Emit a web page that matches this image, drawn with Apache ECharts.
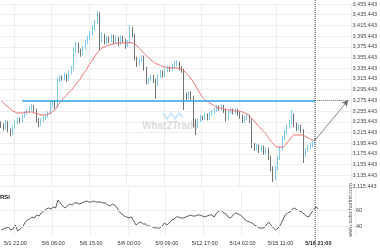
<!DOCTYPE html>
<html><head><meta charset="utf-8">
<script src="https://cdn.jsdelivr.net/npm/echarts@6/dist/echarts.min.js"></script>
<style>html,body{margin:0;padding:0;background:#fff}#c{width:380px;height:250px}</style>
</head><body><div id="c"></div><script>
// ---- data ----
const tickLabels = ["5/1 22:00","5/6 06:00","5/6 15:00","5/8 00:00","5/9 09:00","5/12 17:00","5/14 02:00","5/15 11:00","5/16 21:00"];
const tickIndex = [6,22,38,54,70,86,102,118,134];
const categoryCount = 150;
// [open, close, low, high]
const candles = [
[3232.0,3229.4,3224.0,3236.0],[3229.4,3223.8,3219.0,3232.5],[3223.8,3235.0,3221.0,3238.5],[3235.0,3220.1,3216.0,3237.0],
[3220.1,3214.5,3208.0,3223.0],[3214.5,3225.7,3211.0,3228.0],[3225.7,3235.0,3222.0,3238.0],[3235.0,3240.6,3231.0,3244.0],
[3240.6,3236.9,3233.0,3243.0],[3236.9,3246.2,3234.0,3249.0],[3246.2,3251.8,3243.0,3255.0],[3251.8,3255.6,3248.0,3259.0],
[3255.6,3261.2,3252.0,3264.0],[3261.2,3264.9,3257.0,3269.0],[3264.9,3257.4,3253.0,3267.0],[3257.4,3238.8,3234.0,3260.0],
[3238.8,3231.3,3225.0,3242.0],[3231.3,3238.8,3228.0,3242.0],[3238.8,3242.5,3235.0,3246.0],[3242.5,3246.2,3239.0,3249.0],
[3246.2,3251.8,3243.0,3255.0],[3251.8,3268.6,3249.0,3272.0],[3268.6,3272.4,3264.0,3276.0],[3272.4,3264.9,3260.0,3275.0],
[3264.9,3313.5,3262.0,3318.0],[3313.5,3319.1,3309.0,3323.0],[3319.1,3317.2,3312.0,3322.0],[3317.2,3322.8,3313.0,3327.0],
[3322.8,3315.3,3310.0,3325.0],[3315.3,3328.4,3312.0,3332.0],[3328.4,3335.9,3324.0,3340.0],[3335.9,3369.5,3332.0,3374.0],
[3369.5,3380.7,3365.0,3385.0],[3380.7,3369.5,3364.0,3383.0],[3369.5,3362.0,3357.0,3372.0],[3362.0,3373.3,3359.0,3377.0],
[3373.3,3384.5,3370.0,3388.0],[3384.5,3391.9,3380.0,3396.0],[3391.9,3401.3,3388.0,3405.0],[3401.3,3410.6,3397.0,3415.0],
[3410.6,3421.8,3406.0,3426.0],[3421.8,3436.8,3418.0,3442.4],[3436.8,3388.2,3369.5,3440.0],[3388.2,3397.5,3384.0,3402.0],
[3397.5,3384.5,3380.0,3400.0],[3384.5,3391.9,3381.0,3396.0],[3391.9,3388.2,3383.0,3395.0],[3388.2,3395.7,3385.0,3399.0],
[3395.7,3386.3,3381.0,3398.0],[3386.3,3391.9,3382.0,3396.0],[3391.9,3382.6,3377.0,3394.0],[3382.6,3393.8,3379.0,3397.0],
[3393.8,3388.2,3383.0,3396.0],[3388.2,3378.9,3372.0,3391.0],[3378.9,3384.5,3375.0,3388.0],[3384.5,3410.6,3381.0,3416.2],
[3410.6,3397.5,3393.0,3413.0],[3397.5,3354.6,3350.0,3400.0],[3354.6,3343.4,3338.0,3357.0],[3343.4,3350.8,3340.0,3354.0],
[3350.8,3356.4,3346.0,3360.0],[3356.4,3335.9,3331.0,3359.0],[3335.9,3309.7,3305.0,3338.0],[3309.7,3315.3,3306.0,3319.0],
[3315.3,3320.9,3312.0,3324.0],[3320.9,3313.5,3308.0,3323.0],[3313.5,3306.0,3278.0,3316.0],[3306.0,3320.9,3302.0,3324.0],
[3320.9,3328.4,3317.0,3332.0],[3328.4,3322.8,3318.0,3331.0],[3322.8,3332.2,3319.0,3336.0],[3332.2,3335.9,3328.0,3340.0],
[3335.9,3334.0,3329.0,3339.0],[3334.0,3339.6,3330.0,3343.0],[3339.6,3343.4,3336.0,3348.0],[3343.4,3345.2,3339.0,3350.8],
[3345.2,3335.9,3331.0,3348.0],[3335.9,3332.2,3327.0,3339.0],[3332.2,3285.5,3257.4,3334.0],[3285.5,3281.7,3276.0,3290.0],
[3281.7,3289.2,3278.0,3293.0],[3289.2,3281.7,3276.0,3292.0],[3281.7,3238.8,3225.0,3284.0],[3238.8,3227.5,3210.7,3241.0],
[3227.5,3238.8,3224.0,3242.0],[3238.8,3244.4,3235.0,3248.0],[3244.4,3242.5,3238.0,3247.0],[3242.5,3248.1,3239.0,3252.0],
[3248.1,3242.5,3238.0,3251.0],[3242.5,3250.0,3239.0,3254.0],[3250.0,3253.7,3246.0,3257.0],[3253.7,3257.4,3250.0,3261.0],
[3257.4,3263.0,3254.0,3267.0],[3263.0,3261.2,3256.0,3266.0],[3261.2,3264.9,3257.0,3268.0],[3264.9,3257.4,3252.0,3267.0],
[3257.4,3242.5,3236.0,3260.0],[3242.5,3253.7,3239.0,3257.0],[3253.7,3257.4,3250.0,3261.0],[3257.4,3253.7,3249.0,3260.0],
[3253.7,3257.4,3250.0,3261.0],[3257.4,3251.8,3247.0,3260.0],[3251.8,3246.2,3241.0,3254.0],[3246.2,3238.8,3233.0,3249.0],
[3238.8,3242.5,3234.0,3246.0],[3242.5,3246.2,3238.0,3250.0],[3246.2,3238.8,3233.0,3249.0],[3238.8,3192.1,3186.0,3241.0],
[3192.1,3186.5,3181.0,3196.0],[3186.5,3190.2,3182.0,3194.0],[3190.2,3182.7,3177.0,3193.0],[3182.7,3188.3,3179.0,3192.0],
[3188.3,3179.0,3174.0,3191.0],[3179.0,3184.6,3175.0,3188.0],[3184.6,3169.6,3164.0,3187.0],[3169.6,3149.1,3143.0,3172.0],
[3149.1,3130.4,3122.9,3152.0],[3130.4,3149.1,3127.0,3153.0],[3149.1,3167.8,3145.0,3171.0],[3167.8,3186.5,3164.0,3190.0],
[3186.5,3205.1,3183.0,3209.0],[3205.1,3216.3,3201.0,3220.0],[3216.3,3227.5,3212.0,3231.0],[3227.5,3235.0,3223.0,3239.0],
[3235.0,3248.1,3231.0,3257.4],[3248.1,3231.3,3226.0,3251.0],[3231.3,3223.8,3218.0,3234.0],[3223.8,3227.5,3219.0,3231.0],
[3227.5,3220.1,3215.0,3230.0],[3220.1,3173.4,3158.4,3222.0],[3173.4,3182.7,3169.0,3186.0],[3182.7,3188.3,3179.0,3192.0],
[3188.3,3192.1,3184.0,3196.0],[3192.1,3195.8,3188.0,3199.0],[3195.8,3201.4,3192.0,3205.0]
];
const ma = [
3274.2,3270.5,3266.8,3263.0,3259.3,3255.6,3253.7,3251.8,3251.8,3251.8,3252.7,3253.7,3253.7,3253.7,3251.8,3250.9,
3250.0,3248.1,3248.1,3248.1,3250.0,3251.8,3254.6,3257.4,3264.9,3270.5,3276.1,3281.7,3285.5,3291.1,3294.8,3300.4,
3306.0,3311.6,3317.2,3324.7,3330.3,3337.7,3345.2,3350.8,3358.3,3363.9,3369.5,3373.3,3375.1,3377.0,3378.9,3379.8,
3380.7,3381.7,3382.6,3382.6,3382.6,3382.6,3382.6,3383.5,3382.6,3380.7,3377.0,3372.3,3367.6,3363.0,3358.3,3354.6,
3350.8,3347.1,3344.3,3342.4,3340.5,3338.7,3337.7,3336.8,3335.9,3335.9,3335.9,3335.9,3334.9,3334.0,3330.3,3326.5,
3321.9,3315.3,3309.7,3302.3,3294.8,3287.3,3280.8,3276.1,3273.3,3270.5,3267.7,3264.9,3262.1,3261.2,3260.2,3259.3,
3258.4,3257.4,3257.4,3256.5,3255.6,3255.6,3254.6,3253.7,3251.8,3249.0,3246.2,3241.5,3236.9,3231.3,3226.6,3221.9,
3217.3,3212.6,3206.0,3199.5,3194.8,3190.2,3188.3,3188.3,3188.3,3190.2,3195.8,3201.4,3207.0,3210.7,3210.7,3210.7,
3210.7,3209.8,3207.9,3205.1,3203.3,3201.4,3201.4
];
const rsi = [
36,37.2,38.4,39.6,36,37.2,42,34.8,37.2,39.6,44.4,48,49.2,51.6,50.4,54,52.8,56.4,58.8,61.2,62.4,61.2,63.6,62.4,
72,68.4,64.8,62.4,64.8,67.2,66,68.4,68.4,67.2,68.4,69.6,70.8,69.6,69.6,70.8,69.6,69.6,69.6,68.4,68.4,66,64.8,67.2,
66,62.4,57.6,55.2,52.8,51.6,50.4,51.6,46.8,42,44.4,45.6,43.2,43.2,40.8,40.8,39.6,38.4,38.4,38.4,40.8,44.4,42,44.4,
48,49.2,51.6,51.6,50.4,50.4,51.6,52.8,54,52.8,52.8,54,54,52.8,51.6,52.8,54,54,51.6,56.4,58.8,60,56.4,55.2,51.6,
50.4,54,56.4,55.2,54,51.6,48,46.8,45.6,44.4,42,40.8,38.4,38.4,38.4,42,45.6,42,38.4,36,38.4,42,48,54,56.4,57.6,
61.2,62.4,60,58.8,57.6,55.2,52.8,51.6,56.4,60,63.6,61.2
];
const priceTicks = [3115.443,3135.443,3155.443,3175.443,3195.443,3215.443,3235.443,3255.443,3275.443,3295.443,3315.443,3335.443,3355.443,3375.443,3395.443,3415.443,3435.443,3455.443];
const rsiTicks = [40, 60];
const levelPrice = 3275.443;
const levelStartIdx = 9;
const lastIdx = 134;
const targetIdx = 148;
const lastClose = 3201.4;

// ---- build ----
const OFFSET = 15.443; // shift so that price ticks land on multiples of 20
const sh = v => +(v - OFFSET).toFixed(3);
const categories = [];
for (let i = 0; i < categoryCount; i++) {
  const k = tickIndex.indexOf(i);
  categories.push(k >= 0 ? tickLabels[k] : '');
}
const fmtPrice = v => {
  const s = (v + OFFSET).toFixed(3);
  const [a, b] = s.split('.');
  return a.replace(/\B(?=(\d{3})+(?!\d))/g, ',') + '.' + b;
};
const showTick = i => tickIndex.indexOf(i) >= 0;
const FONT = 'Liberation Sans, Arial, sans-serif';
const gridColor = '#ededed';

const chart = echarts.init(document.getElementById('c'), null, {renderer: 'canvas'});
const option = {
  animation: false,
  backgroundColor: '#fff',
  grid: [
    {left: 0, right: 25, top: 4, height: 182},
    {left: 0, right: 25, top: 190, height: 45}
  ],
  xAxis: [
    {type: 'category', gridIndex: 0, data: categories, boundaryGap: true,
     axisLine: {show: false}, axisTick: {show: false}, axisLabel: {show: false},
     splitLine: {show: true, interval: (i) => showTick(i), lineStyle: {color: gridColor, width: 1}}},
    {type: 'category', gridIndex: 1, data: categories, boundaryGap: true,
     axisLine: {show: false}, axisTick: {show: false},
     axisLabel: {show: true, interval: (i) => showTick(i), fontSize: 5.5, color: '#333', fontFamily: FONT, margin: 5,
       formatter: (v, i) => i === lastIdx ? '{b|' + v + '}' : v,
       rich: {b: {fontWeight: 'bold', fontSize: 5.5, color: '#222', fontFamily: FONT}}},
     splitLine: {show: true, interval: (i) => showTick(i), lineStyle: {color: gridColor, width: 1}}}
  ],
  yAxis: [
    {type: 'value', gridIndex: 0, position: 'right', min: sh(priceTicks[0]), max: sh(priceTicks[priceTicks.length - 1]), interval: 20,
     axisLine: {show: false}, axisTick: {show: false},
     axisLabel: {fontSize: 5.5, color: '#444', fontFamily: FONT, margin: 1, formatter: fmtPrice, showMinLabel: true, showMaxLabel: true},
     splitLine: {show: true, lineStyle: {color: gridColor, width: 1}}},
    {type: 'value', gridIndex: 1, position: 'right', min: 30, max: 84, interval: 10,
     axisLine: {show: false}, axisTick: {show: false},
     axisLabel: {fontSize: 5.5, color: '#444', fontFamily: FONT, margin: 1, formatter: v => rsiTicks.indexOf(v) >= 0 ? String(v) : ''},
     splitLine: {show: false}}
  ],
  series: [
    {type: 'candlestick', xAxisIndex: 0, yAxisIndex: 0, barWidth: 1.2,
     data: candles.map(r => r.map(sh)),
     itemStyle: {color: '#7cc9f0', color0: '#727272', borderColor: '#7cc9f0', borderColor0: '#727272', borderWidth: 1},
     markLine: {silent: true, animation: false, symbol: ['none', 'none'], label: {show: false},
       data: [
         [{coord: [levelStartIdx, sh(levelPrice)], lineStyle: {color: '#2ba6e1', width: 1.6, type: 'solid'}},
          {coord: [lastIdx, sh(levelPrice)]}],
         [{coord: [lastIdx, sh(levelPrice)], lineStyle: {color: '#777', width: 1, type: [1, 1]}},
          {coord: [targetIdx, sh(levelPrice)]}]
       ]}},
    {type: 'line', xAxisIndex: 0, yAxisIndex: 0, data: ma.map(sh), showSymbol: false, smooth: true,
     lineStyle: {color: '#f06a6a', width: 1}, z: 3,
     markLine: {silent: true, animation: false, symbol: ['none', 'arrow'], symbolSize: [5, 6], label: {show: false},
       lineStyle: {color: '#666', width: 0.8, type: 'solid'},
       data: [[{coord: [lastIdx, sh(lastClose)]}, {coord: [targetIdx, sh(levelPrice)]}]]}},
    {type: 'line', xAxisIndex: 1, yAxisIndex: 1, data: rsi, showSymbol: false,
     lineStyle: {color: '#333', width: 0.8},
     markLine: {silent: true, animation: false, symbol: ['none', 'none'], label: {show: false},
       lineStyle: {color: gridColor, width: 1, type: 'solid'},
       data: rsiTicks.map(t => ({yAxis: t}))}}
  ]
};
chart.setOption(option);

const vx = chart.convertToPixel({xAxisIndex: 0}, lastIdx);
chart.setOption({
  graphic: [
    {type: 'line', shape: {x1: vx, y1: 0, x2: vx, y2: 247}, style: {stroke: '#555', lineWidth: 1, lineDash: [1, 1]}, z: 10, silent: true},
    {type: 'text', left: 142, top: 121, style: {text: 'What2Trade', font: 'bold 10px ' + FONT, fill: 'rgba(190,190,190,0.55)'}, z: 1, silent: true},
    {type: 'polyline', shape: {points: [[163,113],[167,119],[171,113],[175,119],[179,113],[183,117]]}, style: {stroke: 'rgba(120,190,235,0.35)', lineWidth: 2, fill: null}, z: 1, silent: true},
    {type: 'text', x: 350.5, y: 210, rotation: Math.PI / 2, style: {text: 'www.autochartist.com', font: '5.5px ' + FONT, fill: '#555', align: 'center', verticalAlign: 'middle'}, silent: true},
    {type: 'text', left: 0, top: 194, style: {text: 'RSI', font: 'bold 6px ' + FONT, fill: '#222'}, silent: true}
  ]
});
</script></body></html>
